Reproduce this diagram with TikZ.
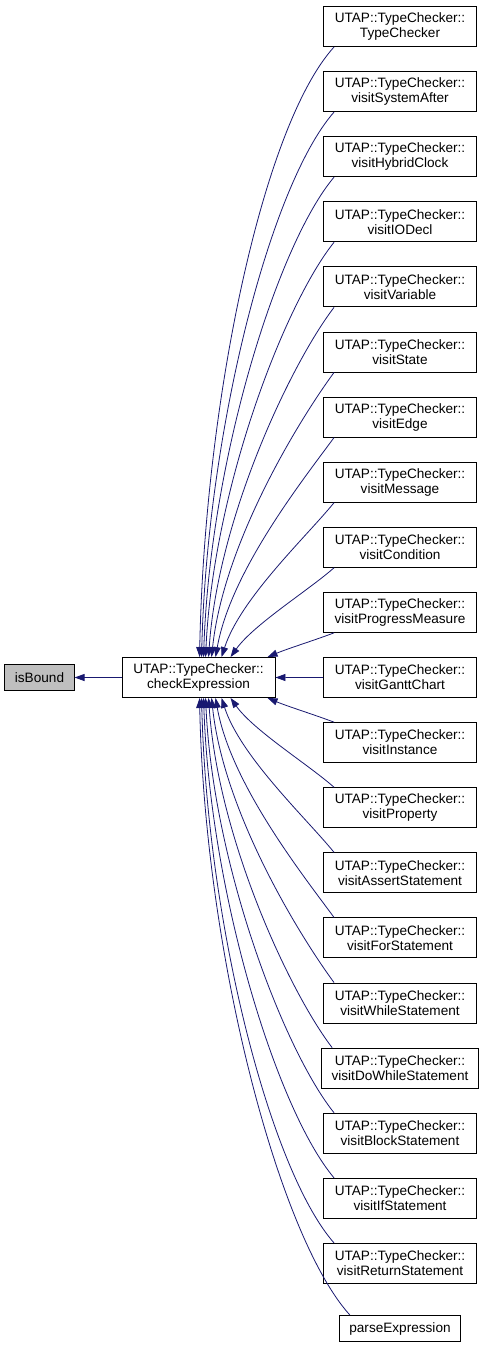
\documentclass[tikz,border=0pt]{standalone}
\usepackage{fontspec}
\setmainfont{Liberation Sans}
\usetikzlibrary{arrows.meta,calc}
\definecolor{edgeblue}{HTML}{191970}
\definecolor{nodegray}{HTML}{BFBFBF}
\begin{document}
\begin{tikzpicture}[x=1pt,y=-1pt,
  box/.style={draw=black,line width=0.9pt,rectangle,align=center,inner ysep=0pt,inner xsep=10pt,font=\fontsize{13.6}{15}\selectfont},
  utap/.style={box,minimum width=153pt,minimum height=40pt},
  single/.style={box,minimum height=26pt},
  edge/.style={draw=edgeblue,line width=0.8pt,-{Triangle[length=10pt,width=7pt]}}]
\useasboundingbox (0,0) rectangle (484,1345);
\node[single,fill=nodegray] (isb) at (39.5,677.5) {isBound};
\node[utap] (ce) at (198.5,677.5) {UTAP::TypeChecker::\\checkExpression};
\foreach \n [count=\i from 0] in {TypeChecker,visitSystemAfter,visitHybridClock,visitIODecl,visitVariable,visitState,visitEdge,visitMessage,visitCondition,visitProgressMeasure,visitGanttChart,visitInstance,visitProperty,visitAssertStatement,visitForStatement,visitWhileStatement,visitDoWhileStatement,visitBlockStatement,visitIfStatement,visitReturnStatement}
  \node[utap] (r\i) at (400,{26.5+65.1*\i}) {UTAP::TypeChecker::\\\n};
\node[single] (r20) at (400,1328.5) {parseExpression};
% edges from upper nodes
\foreach \i/\xe in {0/200,1/202,2/204,3/206,4/209,5/212,6/216,7/222,8/231,9/268}{
  \pgfmathsetmacro\H{657-(46.5+65.1*\i)}
  \pgfmathsetmacro\w{exp(-\H/200)}
  \pgfmathsetmacro\dx{\xe-335}
  \pgfmathsetmacro\ax{(1-\w)*(-0.12*\H)+\w*0.33*\dx}
  \pgfmathsetmacro\ay{(1-\w)*0.12*\H+\w*0.33*\H}
  \pgfmathsetmacro\bx{(1-\w)*3-\w*0.33*\dx}
  \pgfmathsetmacro\by{-(1-\w)*0.42*\H-\w*0.33*\H}
  \draw[edge] ($(r\i.south west)+(11,0)$) .. controls ($(r\i.south west)+({11+\ax},{\ay})$) and ($(ce.north west)+({\xe-122+\bx},{\by})$) .. ($(ce.north west)+({\xe-122},0)$);
}
% edges from lower nodes
\foreach \i/\xe in {11/268,12/231,13/222,14/216,15/212,16/209,17/206,18/204,19/202,20/200}{
  \pgfmathsetmacro\H{(6.5+65.1*\i)-698}
  \pgfmathsetmacro\w{exp(-\H/200)}
  \pgfmathsetmacro\dx{\xe-335}
  \pgfmathsetmacro\ax{(1-\w)*(-0.12*\H)+\w*0.33*\dx}
  \pgfmathsetmacro\ay{(1-\w)*0.12*\H+\w*0.33*\H}
  \pgfmathsetmacro\bx{(1-\w)*3-\w*0.33*\dx}
  \pgfmathsetmacro\by{-(1-\w)*0.42*\H-\w*0.33*\H}
  \draw[edge] ($(r\i.north west)+(11,0)$) .. controls ($(r\i.north west)+({11+\ax},{-\ay})$) and ($(ce.south west)+({\xe-122+\bx},{-\by})$) .. ($(ce.south west)+({\xe-122},0)$);
}
\draw[edge] (r10) -- (ce);
\draw[edge] (ce) -- (isb);
\end{tikzpicture}
\end{document}
